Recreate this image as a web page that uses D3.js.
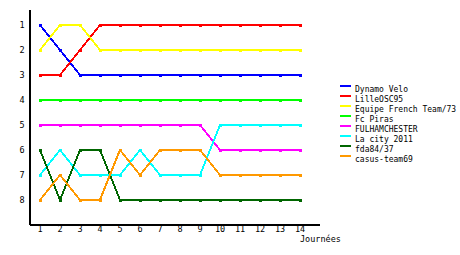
<!DOCTYPE html>
<html>
<head>
<meta charset="utf-8">
<script src="https://cdn.jsdelivr.net/npm/d3@7"></script>
<style>
  body { margin: 0; background: #fff; }
  text { font-family: "DejaVu Sans Mono", monospace; font-size: 8.5px; fill: #000; }
  .legend text { font-size: 8px; }
</style>
</head>
<body>
<script>
const WIDTH = 460;
const HEIGHT = 255;

const JOURNEES = [1, 2, 3, 4, 5, 6, 7, 8, 9, 10, 11, 12, 13, 14];
const RANKS = [1, 2, 3, 4, 5, 6, 7, 8];
const TEAMS = ["Dynamo Velo", "LilleOSC95", "Equipe French Team/73", "Fc Piras",
               "FULHAMCHESTER", "La city 2011", "fda84/37", "casus-team69"];
const COLORS = ["#0000ff", "#ff0000", "#ffff00", "#00ff00",
                "#ff00ff", "#00ffff", "#006600", "#ff9900"];

const dynamo = [1, 2, 3, 3, 3, 3, 3, 3, 3, 3, 3, 3, 3, 3];
const lille = [3, 3, 2, 1, 1, 1, 1, 1, 1, 1, 1, 1, 1, 1];
const equipe = [2, 1, 1, 2, 2, 2, 2, 2, 2, 2, 2, 2, 2, 2];
const piras = [4, 4, 4, 4, 4, 4, 4, 4, 4, 4, 4, 4, 4, 4];
const fulham = [5, 5, 5, 5, 5, 5, 5, 5, 5, 6, 6, 6, 6, 6];
const lacity = [7, 6, 7, 7, 7, 6, 7, 7, 7, 5, 5, 5, 5, 5];
const fda = [6, 8, 6, 6, 8, 8, 8, 8, 8, 8, 8, 8, 8, 8];
const casus = [8, 7, 8, 8, 6, 7, 6, 6, 6, 7, 7, 7, 7, 7];
const SERIES = [dynamo, lille, equipe, piras, fulham, lacity, fda, casus];

const svg = d3.select("body").append("svg")
  .attr("width", WIDTH).attr("height", HEIGHT);

const x = d3.scaleLinear().domain([0.5, 15]).range([30, 320]);
const y = d3.scaleLinear().domain([0.4, 9]).range([10, 225]);

// axes
svg.append("line").attr("x1", 30).attr("x2", 30).attr("y1", y(0.4)).attr("y2", y(9))
  .attr("stroke", "#000").attr("stroke-width", 1.5).attr("shape-rendering", "crispEdges");
svg.append("line").attr("x1", 30).attr("x2", 320).attr("y1", y(9)).attr("y2", y(9))
  .attr("stroke", "#000").attr("stroke-width", 1.5).attr("shape-rendering", "crispEdges");

svg.selectAll(".ylab").data(RANKS).enter().append("text")
  .attr("x", 22).attr("y", d => y(d) + 3)
  .attr("text-anchor", "middle").text(d => d);

svg.selectAll(".xlab").data(JOURNEES).enter().append("text")
  .attr("x", d => x(d)).attr("y", y(9) + 7)
  .attr("text-anchor", "middle").text(d => d);

svg.append("text").attr("x", 300).attr("y", 242).text("Journées");

// series
const line = d3.line().x((d, i) => x(JOURNEES[i])).y(d => y(d));

SERIES.forEach((s, k) => {
  const g = svg.append("g");
  g.append("path").datum(s)
    .attr("d", line)
    .attr("fill", "none")
    .attr("stroke", COLORS[k])
    .attr("stroke-width", 2)
    .attr("shape-rendering", "crispEdges");
  g.selectAll("rect").data(s).enter().append("rect")
    .attr("x", (d, i) => x(JOURNEES[i]) - 1.5)
    .attr("y", d => y(d) - 1.5)
    .attr("width", 3).attr("height", 3)
    .attr("fill", COLORS[k])
    .attr("shape-rendering", "crispEdges");
});

// legend
const legend = svg.append("g").attr("class", "legend").attr("transform", "translate(340, 86)");
TEAMS.forEach((t, k) => {
  legend.append("rect").attr("x", 0).attr("y", k * 10 - 1)
    .attr("width", 11).attr("height", 2).attr("fill", COLORS[k]);
  legend.append("text").attr("x", 15).attr("y", k * 10 + 6).text(t);
});
</script>
</body>
</html>
